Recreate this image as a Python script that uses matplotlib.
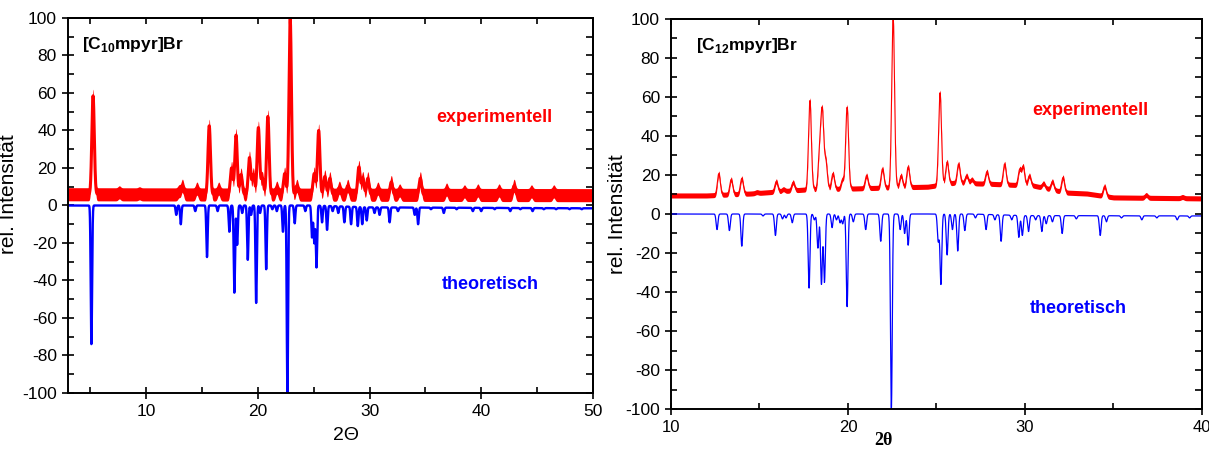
import numpy as np
import matplotlib
matplotlib.use("Agg")
import matplotlib.pyplot as plt
from matplotlib.ticker import MultipleLocator

plt.rcParams["font.family"] = ["Liberation Sans", "DejaVu Sans"]
plt.rcParams["mathtext.fontset"] = "custom"
plt.rcParams["mathtext.rm"] = "Liberation Sans"
plt.rcParams["mathtext.bf"] = "Liberation Sans:bold"
plt.rcParams["axes.unicode_minus"] = False

# ---- [C10mpyr]Br (left panel) ----
# experimental: baseline knots, peak positions (2theta) and peak tops (rel. intensity)
c10_base_x = [3, 50]
c10_base_y = [6, 5.5]
c10_exp_pos = [5.25, 7.6, 9.4, 12.95, 13.25, 14.55, 15.65, 16.5, 17.65, 18.05,
               18.5, 19.25, 19.6, 20.05, 20.4, 20.9, 21.7, 22.4, 22.9, 23.5,
               25.05, 25.45, 26.0, 26.45, 27.3, 28.05, 29.05, 29.4, 29.85, 30.75,
               31.95, 32.7, 34.55, 36.9, 38.5, 39.7, 41.6, 42.95, 44.5, 46.5]
c10_exp_top = [62, 10.5, 10, 11, 14, 12.5, 46, 12.5, 23.5, 41,
               20, 29, 20, 45, 18, 51, 13, 20.5, 103, 14,
               20.5, 43.5, 19, 18, 13, 14, 24, 18, 18, 12.5,
               16, 11.5, 18, 12, 11, 11.5, 11.5, 14, 11, 11]
# theoretical (plotted downward)
c10_theo_base_x = [3, 25, 30, 50]
c10_theo_base_y = [0, 0, -1, -1.5]
c10_theo_pos = [5.1, 12.7, 13.1, 14.4, 15.45, 16.4, 17.45, 17.9, 18.15, 18.6,
                19.1, 19.4, 19.85, 20.2, 20.75, 21.3, 21.7, 22.25, 22.65, 23.3,
                24.25, 24.85, 25.05, 25.25, 25.75, 26.2, 26.7, 27.2, 27.75, 28.35,
                28.95, 29.35, 29.75, 30.45, 30.9, 31.8, 32.55, 34.05, 34.35, 35.5,
                36.65, 37.8, 39.25, 40.0, 41.2, 42.6, 43.5, 44.6, 45.6, 46.7,
                47.9, 49.0]
c10_theo_val = [-74, -5, -10, -3, -27.5, -3, -14, -46.5, -21, -4,
                -29, -5, -52, -4, -34, -2, -3, -14, -100, -9.5,
                -3, -17, -20, -33, -9, -13, -3, -4, -9, -10,
                -11, -10, -8, -4, -5, -9, -3, -5, -10, -2,
                -4, -2, -3, -3, -2, -3, -2, -3, -2, -2,
                -2, -2]

# ---- [C12mpyr]Br (right panel) ----
c12_base_x = [10, 12, 14.5, 16, 17.5, 20, 22, 24.5, 26, 28, 30.5, 32.3, 33.5, 35, 40]
c12_base_y = [9.5, 9.5, 10.5, 11.5, 12.5, 13, 13.5, 14, 16, 15.5, 14.5, 11, 10.5, 8.5, 8]
c12_exp_pos = [12.7, 13.4, 14.0, 14.85, 15.95, 16.35, 16.9, 17.85, 18.4, 18.55,
               18.75, 19.15, 19.7, 19.95, 21.05, 21.95, 22.55, 23.0, 23.4, 25.2,
               25.6, 26.25, 26.7, 27.0, 27.85, 28.85, 29.7, 29.9, 30.25, 31.05,
               31.55, 32.15, 34.5, 36.85, 38.9]
c12_exp_top = [22, 19, 19.5, 12.5, 18, 14, 17.5, 59.5, 33, 52,
               28, 22, 19, 56, 21, 24.5, 102, 21, 25.5, 63.5,
               28, 27, 21, 19, 23, 27, 24, 25.5, 21, 17,
               18, 20, 15.5, 11, 10]
c12_theo_base_x = [10, 27, 30, 40]
c12_theo_base_y = [0, 0, -0.8, -1]
c12_theo_pos = [12.6, 13.3, 14.0, 15.2, 15.9, 16.3, 16.5, 16.85, 17.8, 18.1,
                18.3, 18.5, 18.67, 19.1, 19.35, 19.55, 19.7, 19.95, 20.3, 21.0,
                21.85, 22.45, 22.95, 23.2, 23.4, 25.1, 25.25, 25.6, 25.9, 26.2,
                26.6, 27.2, 27.8, 28.3, 28.65, 29.25, 29.65, 29.85, 30.2, 30.6,
                30.95, 31.2, 31.55, 32.1, 32.9, 34.25, 34.6, 35.45, 36.6, 37.45,
                38.6, 39.3]
c12_theo_val = [-8, -8.5, -16.5, -1, -11, -2.5, -2, -4.5, -38, -3,
                -17.5, -36, -35, -7, -3, -4.5, -5, -47.5, -4, -8,
                -14, -100, -8, -10, -16, -14, -36, -21, -8, -19,
                -8.5, -2, -8, -3, -14, -3, -12, -11, -9, -3,
                -9, -5, -4, -10, -2.5, -11, -4, -2, -3, -2,
                -3, -2]


def pattern(x, base_x, base_y, pos, val, width, noise=0.0):
    y = np.interp(x, base_x, base_y)
    out = y.copy()
    for c, v in zip(pos, val):
        amp = v - np.interp(c, base_x, base_y) - np.sign(v) * noise
        out += amp * np.exp(-0.5 * ((x - c) / width) ** 2)
    return out


def style(ax, xlim):
    ax.set_xlim(xlim)
    ax.set_ylim(-100, 100)
    ax.xaxis.set_major_locator(MultipleLocator(10))
    ax.xaxis.set_minor_locator(MultipleLocator(5))
    ax.yaxis.set_major_locator(MultipleLocator(20))
    ax.yaxis.set_minor_locator(MultipleLocator(10))
    ax.tick_params(which="major", direction="inout", length=9, width=1.2,
                   labelsize=12.5, colors="black")
    ax.tick_params(which="minor", direction="in", length=4, width=1.2)
    for s in ax.spines.values():
        s.set_linewidth(1.4)
    top = ax.secondary_xaxis("top")
    top.xaxis.set_major_locator(MultipleLocator(5))
    top.tick_params(direction="in", length=4, width=1.2, labeltop=False)
    top.spines["top"].set_linewidth(1.4)
    right = ax.secondary_yaxis("right")
    right.yaxis.set_major_locator(MultipleLocator(10))
    right.tick_params(direction="in", length=5, width=1.2, labelright=False)
    right.spines["right"].set_linewidth(1.4)


fig = plt.figure(figsize=(12.09, 4.5), dpi=100)

# left panel
ax1 = fig.add_axes([0.0562, 0.1267, 0.4342, 0.8333])
x1 = np.linspace(3, 50, 8000)
noise1 = 3.5
exp1 = pattern(x1, c10_base_x, c10_base_y, c10_exp_pos, c10_exp_top, 0.11, noise1)
theo1 = pattern(x1, c10_theo_base_x, c10_theo_base_y, c10_theo_pos, c10_theo_val, 0.06)
ax1.fill_between(x1, exp1 - noise1, exp1 + noise1, color="red", lw=0)
ax1.plot(x1, exp1, color="red", lw=2.2)
ax1.plot(x1, theo1, color="blue", lw=1.7)
style(ax1, (3, 50))
ax1.set_ylabel("rel. Intensität", fontsize=15)
ax1.yaxis.set_label_coords(-0.095, 0.53)
ax1.set_xlabel("2Θ", fontsize=14)
ax1.xaxis.set_label_coords(0.53, -0.09)
ax1.text(4.3, 86, r"[C$_{\mathbf{10}}$mpyr]Br", fontsize=12.5, fontweight="bold",
         va="center")
ax1.text(41.2, 47, "experimentell", color="red", fontsize=13, fontweight="bold",
         ha="center", va="center")
ax1.text(40.8, -42, "theoretisch", color="blue", fontsize=13, fontweight="bold",
         ha="center", va="center")

# right panel
ax2 = fig.add_axes([0.555, 0.0911, 0.4392, 0.8667])
x2 = np.linspace(10, 40, 8000)
noise2 = 1.3
exp2 = pattern(x2, c12_base_x, c12_base_y, c12_exp_pos, c12_exp_top, 0.08, noise2)
theo2 = pattern(x2, c12_theo_base_x, c12_theo_base_y, c12_theo_pos, c12_theo_val, 0.05)
ax2.fill_between(x2, exp2 - noise2, exp2 + noise2, color="red", lw=0)
ax2.plot(x2, exp2, color="red", lw=0.8)
ax2.plot(x2, theo2, color="blue", lw=0.9)
style(ax2, (10, 40))
ax2.tick_params(axis="x", labelsize=12)
ax2.set_ylabel("rel. Intensität", fontsize=15)
ax2.yaxis.set_label_coords(-0.083, 0.5)
ax2.set_xlabel("2θ", fontsize=13, fontweight="bold",
               family=["Liberation Serif", "DejaVu Serif"])
ax2.xaxis.set_label_coords(0.40, -0.06)
ax2.text(11.4, 86.5, r"[C$_{\mathbf{12}}$mpyr]Br", fontsize=12.5, fontweight="bold",
         va="center")
ax2.text(33.7, 53, "experimentell", color="red", fontsize=13, fontweight="bold",
         ha="center", va="center")
ax2.text(33.0, -48.5, "theoretisch", color="blue", fontsize=13, fontweight="bold",
         ha="center", va="center")

fig.savefig("out.png", dpi=100)
